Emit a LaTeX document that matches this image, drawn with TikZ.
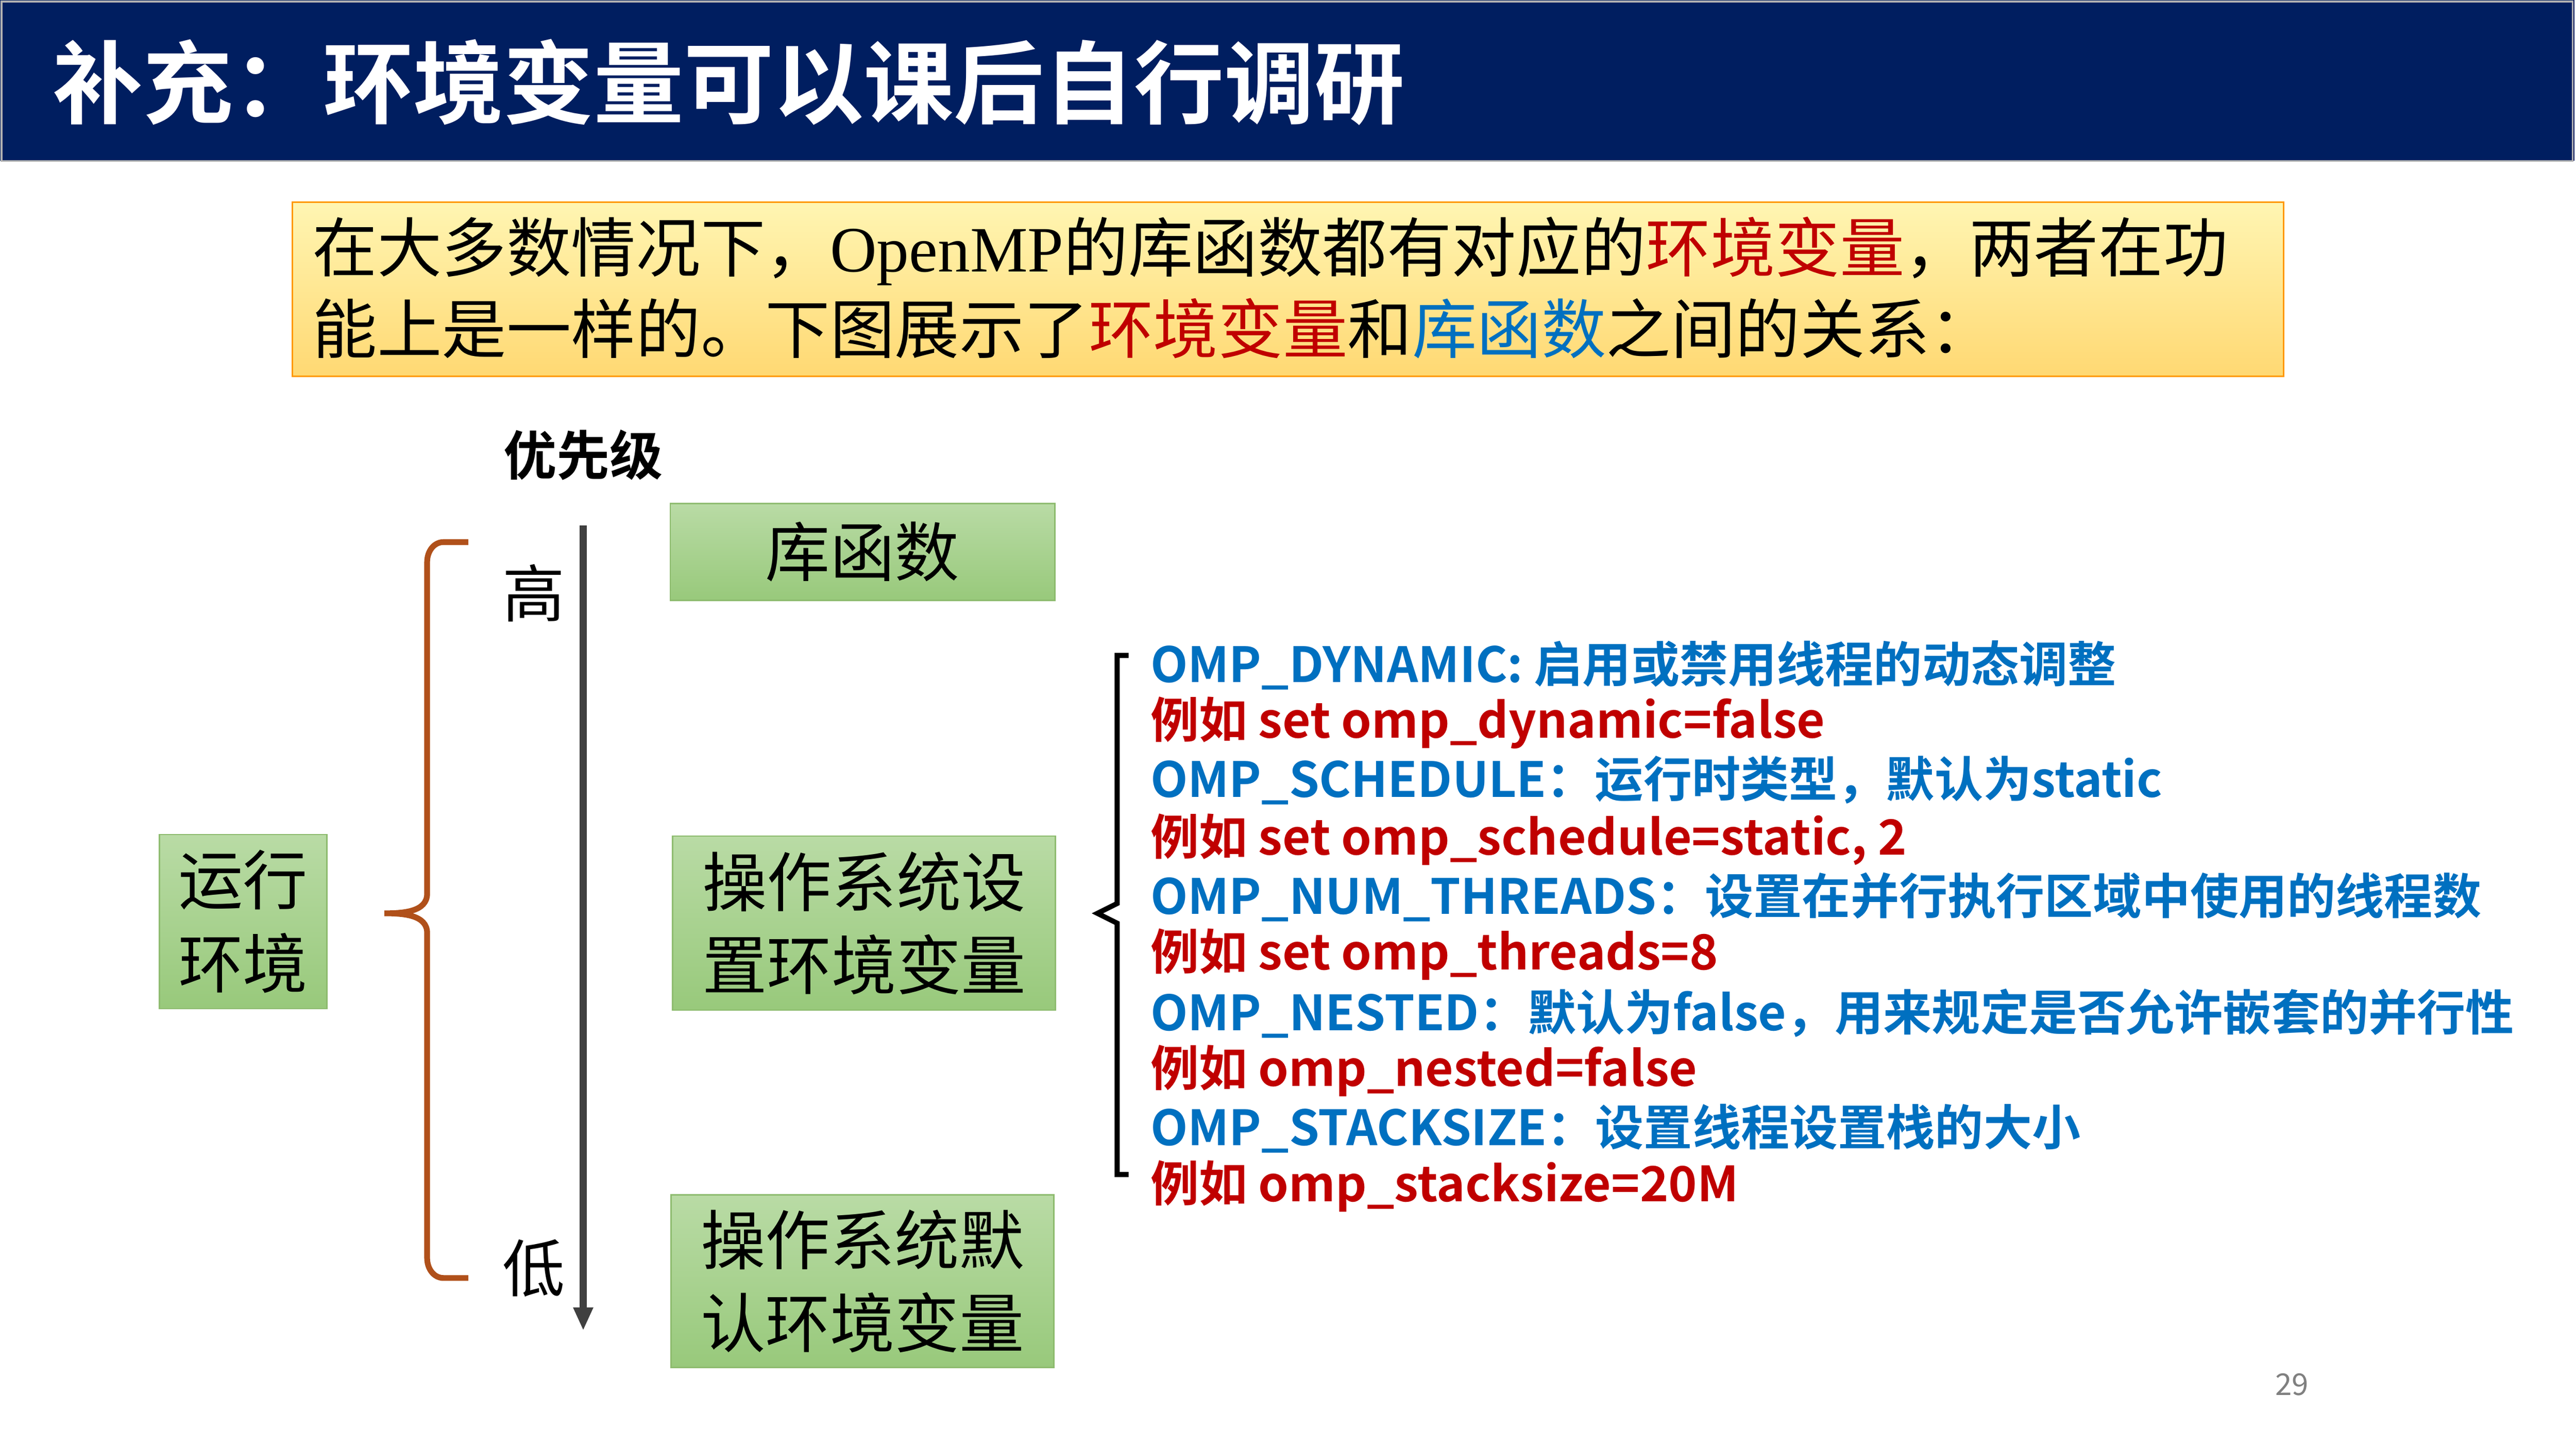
\documentclass[tikz,border=0pt]{standalone}
\usepackage{fontspec}
\setmainfont{Noto Sans CJK SC}
\newfontfamily\cjkb{Noto Sans CJK SC Bold}
\newfontfamily\serifl{Liberation Serif}
\usetikzlibrary{arrows.meta}
\definecolor{navy}{HTML}{001E60}
\definecolor{myblue}{HTML}{0070C0}
\definecolor{myred}{HTML}{C00000}
\definecolor{brownb}{HTML}{B0501A}
\definecolor{gtop}{HTML}{B9DBA5}
\definecolor{gbot}{HTML}{98C97B}
\definecolor{gbord}{HTML}{8DBB6E}
\tikzset{
 gbox/.style={draw=gbord,line width=0.6pt,top color=gtop,bottom color=gbot,align=center,font=\fontsize{28}{36}\selectfont,inner sep=0pt},
 litem/.style={anchor=west,inner sep=0pt,font=\cjkb\fontsize{21}{24}\selectfont},
}
\begin{document}
\begin{tikzpicture}[x=0.025cm,y=-0.025cm]
\useasboundingbox (0,0) rectangle (1568,880);
\fill[white] (0,0) rectangle (1568,880);
\fill[navy] (0,0) rectangle (1567,98);
\draw[gray!60,line width=0.8pt] (1,1) rectangle (1566,98);
\node[anchor=west,text=white,inner sep=0pt,font=\cjkb\fontsize{39}{44}\selectfont] (title) at (32,50) {补充：环境变量可以课后自行调研};
\node[draw=orange!80!yellow,line width=0.6pt,top color=orange!25!yellow!30,bottom color=orange!55!yellow!55,minimum width=1212*0.025cm,minimum height=106*0.025cm,inner sep=0pt] (ybox) at (784,176) {};
\node[anchor=west,inner sep=0pt,font=\fontsize{28}{36}\selectfont] (l1) at (190,153) {在大多数情况下，{\serifl OpenMP}的库函数都有对应的\textcolor{myred}{环境变量}，两者在功};
\node[anchor=west,inner sep=0pt,font=\fontsize{28}{36}\selectfont] (l2) at (190,200) {能上是一样的。下图展示了\textcolor{myred}{环境变量}和\textcolor{myblue}{库函数}之间的关系：};
\node[font=\cjkb\fontsize{23}{26}\selectfont,inner sep=0pt] (prio) at (355,277) {优先级};
\coordinate (atop) at (355,320);
\coordinate (abot) at (355,810);
\draw[line width=3pt,draw=black!75,-{Triangle[length=10pt,width=8pt]}] (atop) -- (abot);
\node[font=\fontsize{27}{30}\selectfont,inner sep=0pt] (hi) at (325,361) {高};
\node[font=\fontsize{27}{30}\selectfont,inner sep=0pt] (lo) at (325,772) {低};
\draw[brownb,line width=2.5pt] (285,330) -- (270,330) to[out=180,in=90] (260,342) -- (260,544) to[out=-90,in=0] (234,556) to[out=0,in=90] (260,568) -- (260,766) to[out=-90,in=180] (270,778) -- (285,778);
\node[gbox,minimum width=102*0.025cm,minimum height=106*0.025cm] (env) at (148,561) {运行\\环境};
\node[gbox,minimum width=234*0.025cm,minimum height=59*0.025cm] (lib) at (525,336) {库函数};
\node[gbox,minimum width=233*0.025cm,minimum height=106*0.025cm] (osset) at (526,562) {操作系统设\\置环境变量};
\node[gbox,minimum width=233*0.025cm,minimum height=105*0.025cm] (osdef) at (525,780) {操作系统默\\认环境变量};
\draw[black,line width=2.2pt] (687,399) -- (680,399) -- (680,550) -- (668,556) -- (680,562) -- (680,715) -- (687,715);
\node[litem,text=myblue] (i1) at (700,405) {OMP\_DYNAMIC: 启用或禁用线程的动态调整};
\node[litem,text=myred] (i2) at (700,440) {例如 set omp\_dynamic=false};
\node[litem,text=myblue] (i3) at (700,475) {OMP\_SCHEDULE：运行时类型，默认为static};
\node[litem,text=myred] (i4) at (700,511) {例如 set omp\_schedule=static, 2};
\node[litem,text=myblue] (i5) at (700,546) {OMP\_NUM\_THREADS：设置在并行执行区域中使用的线程数};
\node[litem,text=myred] (i6) at (700,581) {例如 set omp\_threads=8};
\node[litem,text=myblue] (i7) at (700,617) {OMP\_NESTED：默认为false，用来规定是否允许嵌套的并行性};
\node[litem,text=myred] (i8) at (700,652) {例如 omp\_nested=false};
\node[litem,text=myblue] (i9) at (700,687) {OMP\_STACKSIZE：设置线程设置栈的大小};
\node[litem,text=myred] (i10) at (700,722) {例如 omp\_stacksize=20M};
\node[text=gray,font=\fontsize{13}{15}\selectfont,inner sep=0pt] (pg) at (1395,843) {29};
\end{tikzpicture}
\end{document}
